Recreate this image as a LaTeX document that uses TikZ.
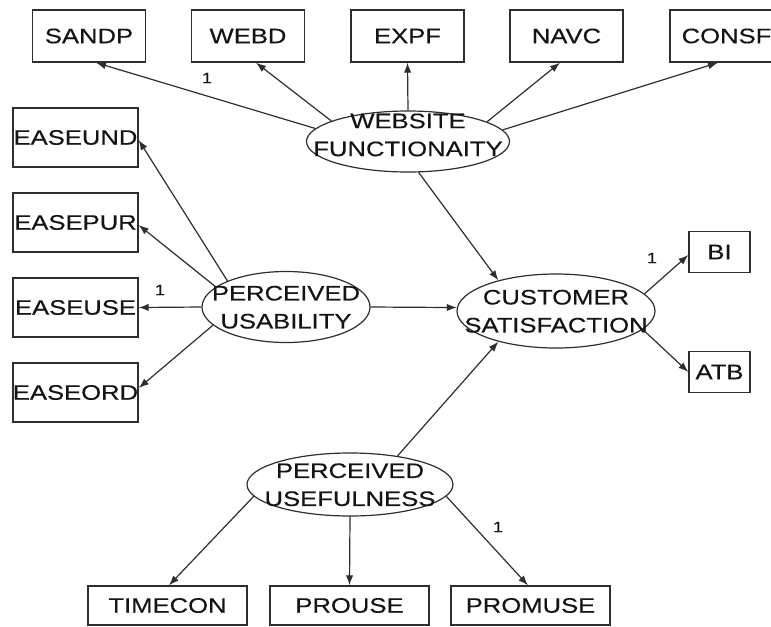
\documentclass[tikz,border=0pt]{standalone}
\usepackage{fontspec}
\setmainfont{Liberation Sans}[FakeStretch=1.22,FakeBold=0.3]
\usetikzlibrary{arrows.meta,shapes.geometric}
\definecolor{ln}{HTML}{2E2E2E}
\definecolor{tx}{HTML}{141414}
\newcommand{\lvtwo}[3]{\raisebox{#3}[0pt][0pt]{\vbox{\baselineskip=21pt\hbox to 0pt{\hss #1\hss}\hbox to 0pt{\hss #2\hss}}}}
\tikzset{
  obs/.style={draw=ln, line width=1pt, rectangle, inner sep=0pt, text=tx,
              font=\fontsize{15.75}{21}\selectfont},
  topbox/.style={obs, minimum width=84.75pt, minimum height=39pt},
  leftbox/.style={obs, minimum width=93.75pt, minimum height=44.25pt},
  smallbox/.style={obs, minimum width=45.75pt, minimum height=30.75pt},
  botbox/.style={obs, minimum width=119.25pt, minimum height=29.25pt},
  lat/.style={draw=ln, line width=0.9pt, ellipse, inner sep=0pt, text=tx,
              font=\fontsize{15.75}{21}\selectfont},
  one/.style={text=tx, inner sep=0pt, font=\fontsize{11.25}{13}\selectfont},
  arr/.style={draw=ln, line width=0.9pt, -{Latex[length=7.5pt,width=5.5pt]}}
}
\begin{document}
\begin{tikzpicture}[x=0.75pt,y=-0.75pt]
\clip (0,0) rectangle (771,626);
\fill[white] (0,0) rectangle (771,626);
% top indicators
\node[topbox] (sandp) at (89,36) {SANDP};
\node[topbox] (webd) at (248,36) {WEBD};
\node[topbox] (expf) at (407.5,36) {EXPF};
\node[topbox] (navc) at (566.5,36) {NAVC};
\node[topbox] (consf) at (726.5,36) {CONSF};
% left indicators
\node[leftbox] (easeund) at (75.5,137.5) {EASEUND};
\node[leftbox] (easepur) at (75.5,222.5) {EASEPUR};
\node[leftbox] (easeuse) at (75.5,307.5) {EASEUSE};
\node[leftbox] (easeord) at (75.5,392.5) {EASEORD};
% right indicators
\node[smallbox] (bi) at (719.5,252) {BI};
\node[smallbox] (atb) at (719.5,372) {ATB};
% bottom indicators
\node[botbox] (timecon) at (167.5,605.5) {TIMECON};
\node[botbox] (prouse) at (349.5,605.5) {PROUSE};
\node[botbox] (promuse) at (530.5,605.5) {PROMUSE};
% latent variables
\node[lat, minimum width=152.25pt, minimum height=45.75pt] (wf) at (408,141.5)
  {\lvtwo{WEBSITE}{FUNCTIONAITY}{-11pt}};
\node[lat, minimum width=126pt, minimum height=53.25pt] (pu) at (286,307)
  {\lvtwo{PERCEIVED}{USABILITY}{-16.1pt}};
\node[lat, minimum width=148.5pt, minimum height=55.5pt] (cs) at (556,311)
  {\lvtwo{CUSTOMER}{SATISFACTION}{-16.1pt}};
\node[lat, minimum width=154.5pt, minimum height=47.25pt] (puf) at (350,484.5)
  {\lvtwo{PERCEIVED}{USEFULNESS}{-16.1pt}};
% website functionality loadings
\draw[arr] (wf.172.4) -- ([xshift=5.25pt]sandp.south);
\draw[arr] (wf.165.8) -- ([xshift=6pt]webd.south);
\draw[arr] (wf.90) -- (expf.south);
\draw[arr] (wf.14.5) -- ([xshift=-4.9pt]navc.south);
\draw[arr] (wf.7.6) -- ([xshift=-6.4pt]consf.south);
% perceived usability loadings
\draw[arr] (pu.156.1) -- ([yshift=-1.9pt]easeund.east);
\draw[arr] (pu.164.2) -- ([yshift=-1.9pt]easepur.east);
\draw[arr] (pu.180) -- (easeuse.east);
\draw[arr] (pu.194.9) -- ([yshift=3.4pt]easeord.east);
% perceived usefulness loadings
\draw[arr] (puf.187.9) -- ([xshift=1.1pt]timecon.north);
\draw[arr] (puf.270) -- (prouse.north);
\draw[arr] (puf.-7.7) -- ([xshift=-1.9pt]promuse.north);
% customer satisfaction loadings
\draw[arr] (cs.11.4) -- ([yshift=-2.25pt]bi.west);
\draw[arr] (cs.-12) -- (atb.west);
% structural paths
\draw[arr] (wf.-71.8) -- (cs.152.3);
\draw[arr] (pu.0) -- (cs.178.3);
\draw[arr] (puf.31.2) -- (cs.208.2);
% fixed loadings
\node[one] (l1) at (207,78) {1};
\node[one] (l2) at (160,290) {1};
\node[one] (l3) at (652,258) {1};
\node[one] (l4) at (498,527) {1};
\end{tikzpicture}
\end{document}
